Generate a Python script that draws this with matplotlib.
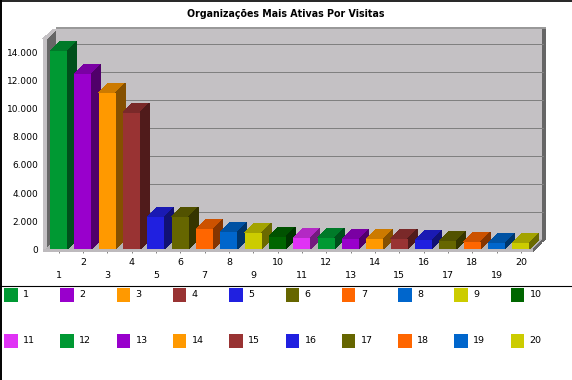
import matplotlib
matplotlib.use("Agg")
import matplotlib.pyplot as plt
from matplotlib.patches import Polygon, Rectangle
from matplotlib.colors import to_rgb

W, H = 572, 380

# values
positions = list(range(1, 21))
visits = [14160, 12520, 11160, 9740, 2310, 2310, 1430, 1240, 1160, 880,
          810, 800, 720, 720, 720, 640, 570, 500, 430, 430]
colors = ["#009933", "#9900cc", "#ff9900", "#993333", "#2020e0",
          "#666600", "#ff6600", "#0066cc", "#cccc00", "#006600",
          "#e033f5", "#009933", "#9900cc", "#ff9900", "#993333",
          "#2020e0", "#666600", "#ff6600", "#0066cc", "#cccc00"]
y_ticks = [0, 2000, 4000, 6000, 8000, 10000, 12000, 14000]
y_labels = ["0", "2.000", "4.000", "6.000", "8.000", "10.000", "12.000", "14.000"]
title = "Organizações Mais Ativas Por Visitas"


def shade(color, k):
    return tuple(c * k for c in to_rgb(color))


fig = plt.figure(figsize=(W / 100, H / 100), dpi=100, facecolor="white")

# axes area: value 0 sits at pixel row 249, front plane 47..533
ax_left, ax_right, ax_bottom, ax_top = 46.5, 533.0, 249.0, 39.0
ax = fig.add_axes([ax_left / W, 1 - ax_bottom / H,
                   (ax_right - ax_left) / W, (ax_bottom - ax_top) / H])
ax.set_xlim(0.5, 20.5)
ax.set_ylim(0, 15000)
ax.patch.set_visible(False)
for s in ax.spines.values():
    s.set_visible(False)

# px to data units
px_x = 20.0 / (ax_right - ax_left)
px_y = 15000.0 / (ax_bottom - ax_top)
dx = 9.5 * px_x
dy = 9.5 * px_y
x0, x1 = 0.5, 20.5
y_max = 15000
y_floor = -3.0 * px_y


def poly(points, color, z):
    ax.add_patch(Polygon(points, closed=True, facecolor=color, edgecolor="none",
                         clip_on=False, zorder=z, antialiased=False))


# back wall, side walls, floor
poly([(x0 + dx, dy), (x1 + dx, dy), (x1 + dx, y_max + dy), (x0 + dx, y_max + dy)], "#c4c1c4", 1)
poly([(x0 + dx, y_max + dy), (x1 + dx + 3 * px_x, y_max + dy),
      (x1 + dx + 3 * px_x, y_max + dy + 2.5 * px_y), (x0 + dx, y_max + dy + 2.5 * px_y)], "#999999", 1)
poly([(x1 + dx, dy - 2 * px_y), (x1 + dx + 3 * px_x, dy),
      (x1 + dx + 3 * px_x, y_max + dy), (x1 + dx, y_max + dy)], "#666666", 1)
poly([(x0, 0), (x0 + dx, dy), (x0 + dx, y_max + dy), (x0, y_max)], "#666666", 2)
poly([(x0 - 4 * px_x, y_floor), (x0, y_floor), (x0, y_max), (x0 - 4 * px_x, y_max)], "#c4c1c4", 2)
poly([(x0 - 4 * px_x, y_max), (x0, y_max), (x0 + dx, y_max + dy),
      (x0 + dx - 3 * px_x, y_max + dy)], "#c4c1c4", 2)
poly([(x0, 0), (x0 + dx, dy), (x1 + dx, dy), (x1, 0)], "#b5b3b5", 2)
poly([(x0 - 4 * px_x, y_floor), (x1, y_floor), (x1, 0), (x0 - 4 * px_x, 0)], "#bdbabd", 2)
poly([(x1, y_floor), (x1 + dx, dy - 2 * px_y), (x1 + dx, dy), (x1, 0)], "#666666", 2)

# gridlines on the back wall
for t in y_ticks[1:]:
    ax.plot([x0 + dx, x1 + dx], [t + dy, t + dy], color="#808080", lw=0.7,
            clip_on=False, zorder=3, solid_capstyle="butt", antialiased=False)

# bars
bar_w = 17 * px_x
ax.bar(positions, visits, width=bar_w, color=colors, zorder=6, antialiased=False)
for x, v, c in zip(positions, visits, colors):
    l, r = x - bar_w / 2, x + bar_w / 2
    poly([(l, v), (r, v), (r + dx, v + dy), (l + dx, v + dy)], shade(c, 0.8), 5)
    poly([(r, 0), (r + dx, dy), (r + dx, v + dy), (r, v)], shade(c, 0.52), 5)

# ticks
ax.set_xticks(positions)
ax.set_xticklabels([str(p) for p in positions])
ax.set_yticks(y_ticks)
ax.set_yticklabels(y_labels)
ax.tick_params(axis="x", length=3.2, width=0.7, color="#808080", labelsize=6.8, labelcolor="black")
ax.tick_params(axis="y", length=3.0, width=0.7, color="#808080", labelsize=6.5, labelcolor="black", pad=3)
for p, tick in zip(positions, ax.xaxis.get_major_ticks()):
    tick.set_pad(3.2 if p % 2 == 0 else 13.0)
    tick.tick1line.set_zorder(7)
for tick in ax.yaxis.get_major_ticks():
    tick.tick1line.set_zorder(7)

fig.text(286 / W, 1 - 14 / H, title, ha="center", va="center",
         fontsize=6.85, fontweight="bold", color="black")

# frame and separator
fig.add_artist(plt.Line2D([0, 1], [1 - 0.5 / H] * 2, color="black", lw=1.2))
fig.add_artist(plt.Line2D([0.5 / W] * 2, [0, 1], color="black", lw=1.4))
fig.add_artist(plt.Line2D([0, 1], [1 - 285.5 / H] * 2, color="black", lw=0.8))

# legend, two rows of ten
for i, (p, c) in enumerate(zip(positions, colors)):
    col, row = i % 10, i // 10
    lx = 4 + col * 56.3
    cy = 294.5 + row * 46
    fig.add_artist(Rectangle((lx / W, 1 - (cy + 7) / H), 13.5 / W, 14 / H,
                             transform=fig.transFigure, facecolor=c,
                             edgecolor="none", antialiased=False))
    fig.text((lx + 19) / W, 1 - cy / H, str(p), ha="left", va="center",
             fontsize=6.8, color="black")

fig.savefig("out.png", dpi=100)
